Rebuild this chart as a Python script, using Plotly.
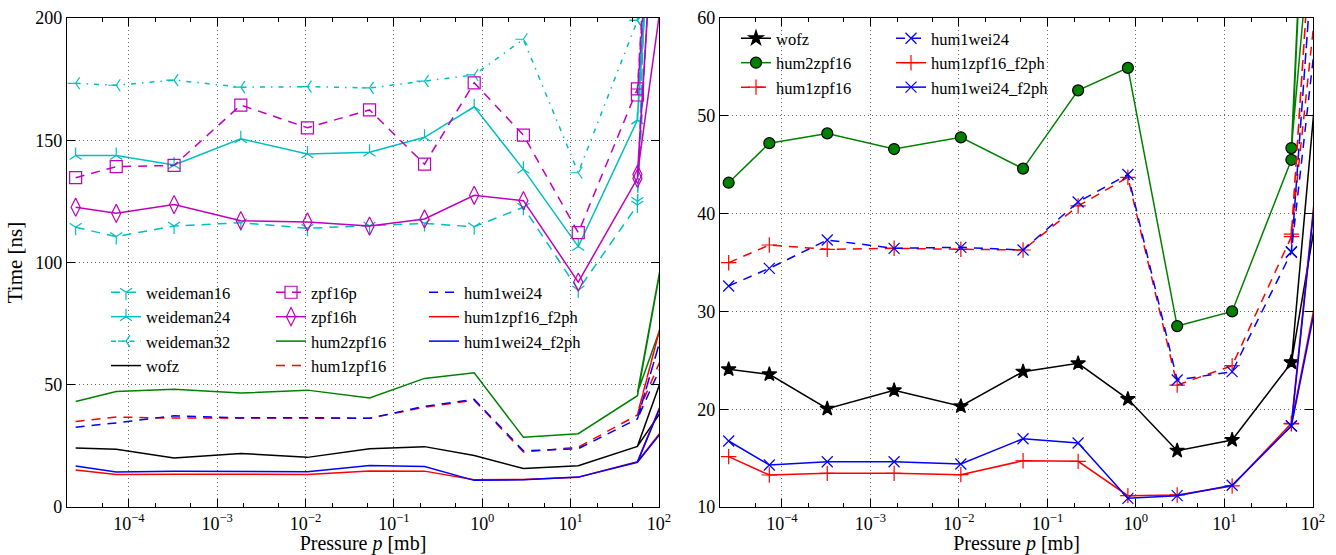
import plotly.graph_objects as go

# ---------------- data ----------------
pressure = [2.5e-5, 7.2e-5, 3.25e-4, 1.85e-3, 1.05e-2, 5.3e-2, 0.222, 0.81, 2.92, 12.2, 57, 200, 57, 200]

weideman16 = [114.4, 110.6, 114.9, 116.3, 114.0, 114.9, 116.0, 114.6, 122.6, 88.8, 123.5, 700, 125.0, 500]
weideman24 = [143.8, 143.8, 139.9, 150.6, 144.4, 145.1, 151.2, 163.7, 138.1, 106.5, 158.3, 550, 158.3, 450]
weideman32 = [173.3, 172.5, 174.6, 171.7, 171.9, 171.4, 174.2, 176.7, 191.3, 136.7, 199.0, 600, 199.0, 500]
zpf16p = [134.7, 139.2, 139.7, 164.4, 155.1, 162.4, 140.2, 173.5, 152.1, 112.2, 171.0, 500, 168.5, 450]
zpf16h = [122.6, 120.1, 123.7, 117.1, 116.6, 114.9, 117.8, 127.5, 125.3, 92.0, 134.4, 455, 136.0, 280]
wofz = [24.08, 23.57, 20.05, 21.93, 20.30, 23.84, 24.69, 21.04, 15.76, 16.85, 24.76, 79.9, 24.8, 53.8]
hum2zpf16 = [43.16, 47.2, 48.2, 46.6, 47.8, 44.6, 52.6, 54.9, 28.5, 30.0, 45.5, 154.2, 46.7, 102.2]
hum1zpf16 = [34.98, 36.79, 36.35, 36.45, 36.35, 36.28, 40.78, 43.71, 22.47, 24.45, 37.64, 113.1, 37.9, 84.2]
hum1wei24 = [32.6, 34.4, 37.3, 36.45, 36.55, 36.28, 41.19, 44.0, 22.99, 23.84, 36.04, 104.0, 36.1, 79.8]
hum1zpf16_f2ph = [15.15, 13.27, 13.44, 13.44, 13.31, 14.73, 14.67, 11.16, 11.23, 12.15, 18.55, 66.7, 18.5, 43.7]
hum1wei24_f2ph = [16.75, 14.29, 14.63, 14.63, 14.40, 16.98, 16.54, 10.89, 11.16, 12.22, 18.28, 66.0, 18.3, 42.9]

x_tickvals = [1e-4, 1e-3, 1e-2, 1e-1, 1e0, 1e1, 1e2]
x_ticktext = ["10<sup>\u22124</sup>", "10<sup>\u22123</sup>", "10<sup>\u22122</sup>",
              "10<sup>\u22121</sup>", "10<sup>0</sup>", "10<sup>1</sup>", "10<sup>2</sup>"]
left_yticks = [0, 50, 100, 150, 200]
right_yticks = [10, 20, 30, 40, 50, 60]

# ---------------- style ----------------
W, H = 1336, 555
FONT = "Liberation Serif, DejaVu Serif, serif"
CYAN, MAG, GREEN, RED, BLUE, BLACK = "#00BFBF", "#BF00BF", "#008000", "#FF0000", "#0000FF", "#000000"
DASH = "9px,7px"
DASHDOT = "5px,6px,1.5px,6px"
LW = 1.5

fig = go.Figure()


def add(y, name, color, dash, xa, ya, legend, symbol=None, msize=10, mcolor=None, mline=None):
    mode = "lines+markers" if symbol else "lines"
    marker = None
    if symbol:
        marker = dict(symbol=symbol, size=msize,
                      color=mcolor if mcolor else color,
                      line=dict(color=mline if mline else color, width=1.2))
    fig.add_trace(go.Scatter(x=pressure, y=y, name=name, mode=mode,
                             line=dict(color=color, width=LW, dash=dash),
                             marker=marker, xaxis=xa, yaxis=ya, legend=legend))


# left panel
add(weideman16, "weideman16", CYAN, DASH, "x", "y", "legend", "y-down-open", 10)
add(weideman24, "weideman24", CYAN, "solid", "x", "y", "legend", "y-up-open", 10)
add(weideman32, "weideman32", CYAN, DASHDOT, "x", "y", "legend", "y-left-open", 10)
add(wofz, "wofz", BLACK, "solid", "x", "y", "legend")
add(zpf16p, "zpf16p", MAG, DASH, "x", "y", "legend2", "square-open", 12)
add(zpf16h, "zpf16h", MAG, "solid", "x", "y", "legend2", "diamond-tall-open", 13)
add(hum2zpf16, "hum2zpf16", GREEN, "solid", "x", "y", "legend2")
add(hum1zpf16, "hum1zpf16", RED, DASH, "x", "y", "legend2")
add(hum1wei24, "hum1wei24", BLUE, DASH, "x", "y", "legend3")
add(hum1zpf16_f2ph, "hum1zpf16_f2ph", RED, "solid", "x", "y", "legend3")
add(hum1wei24_f2ph, "hum1wei24_f2ph", BLUE, "solid", "x", "y", "legend3")

# right panel
add(wofz, "wofz", BLACK, "solid", "x2", "y2", "legend4", "star", 11)
add(hum2zpf16, "hum2zpf16", GREEN, "solid", "x2", "y2", "legend4", "circle", 11, GREEN, BLACK)
add(hum1zpf16, "hum1zpf16", RED, DASH, "x2", "y2", "legend4", "cross-thin-open", 11)
add(hum1wei24, "hum1wei24", BLUE, DASH, "x2", "y2", "legend5", "x-thin-open", 11)
add(hum1zpf16_f2ph, "hum1zpf16_f2ph", RED, "solid", "x2", "y2", "legend5", "cross-thin-open", 11)
add(hum1wei24_f2ph, "hum1wei24_f2ph", BLUE, "solid", "x2", "y2", "legend5", "x-thin-open", 11)

# ---------------- axes ----------------
def px_x(p):
    return p / W


def px_y(p):
    return 1 - p / H


GRID = dict(showgrid=True, gridcolor="rgba(0,0,0,0.6)", griddash="1px,3px", gridwidth=1)

common_x = dict(type="log", range=[-4.70, 2.0], tickvals=x_tickvals, ticktext=x_ticktext,
                ticks="inside", ticklen=8, tickcolor="black", tickwidth=1,
                minor=dict(ticks="inside", ticklen=4, tickcolor="black", showgrid=False),
                showline=True, linecolor="black", linewidth=1.3, mirror="ticks",
                zeroline=False, automargin=False,
                tickfont=dict(family=FONT, size=18, color="black"),
                title=dict(text="Pressure <i>p</i> [mb]", font=dict(family=FONT, size=20, color="black"),
                           standoff=7), **GRID)
common_y = dict(ticks="inside", ticklen=8, tickcolor="black", tickwidth=1,
                showline=True, linecolor="black", linewidth=1.3, mirror="ticks",
                zeroline=False, automargin=False,
                tickfont=dict(family=FONT, size=18, color="black"), **GRID)

fig.update_layout(
    xaxis=dict(domain=[px_x(67), px_x(659)], anchor="y", **common_x),
    xaxis2=dict(domain=[px_x(720), px_x(1313)], anchor="y2", **common_x),
    yaxis=dict(domain=[px_y(507), px_y(18)], anchor="x", range=[0, 200], tickvals=left_yticks,
               title=dict(text="Time [ns]", font=dict(family=FONT, size=21, color="black"), standoff=6),
               **common_y),
    yaxis2=dict(domain=[px_y(507), px_y(18)], anchor="x2", range=[10, 60], tickvals=right_yticks,
                **common_y),
)

leg_common = dict(bgcolor="rgba(0,0,0,0)", borderwidth=0, xanchor="left", yanchor="top",
                  font=dict(family=FONT, size=16.5, color="black"), tracegroupgap=0)
fig.update_layout(
    legend=dict(x=px_x(106), y=px_y(275), **leg_common),
    legend2=dict(x=px_x(271), y=px_y(275), **leg_common),
    legend3=dict(x=px_x(424), y=px_y(275), **leg_common),
    legend4=dict(x=px_x(736), y=px_y(21), **leg_common),
    legend5=dict(x=px_x(891), y=px_y(21), **leg_common),
    width=W, height=H, margin=dict(l=0, r=0, t=0, b=0, autoexpand=False),
    paper_bgcolor="white", plot_bgcolor="white",
    font=dict(family=FONT, color="black"),
)

fig.write_html("out.html")
